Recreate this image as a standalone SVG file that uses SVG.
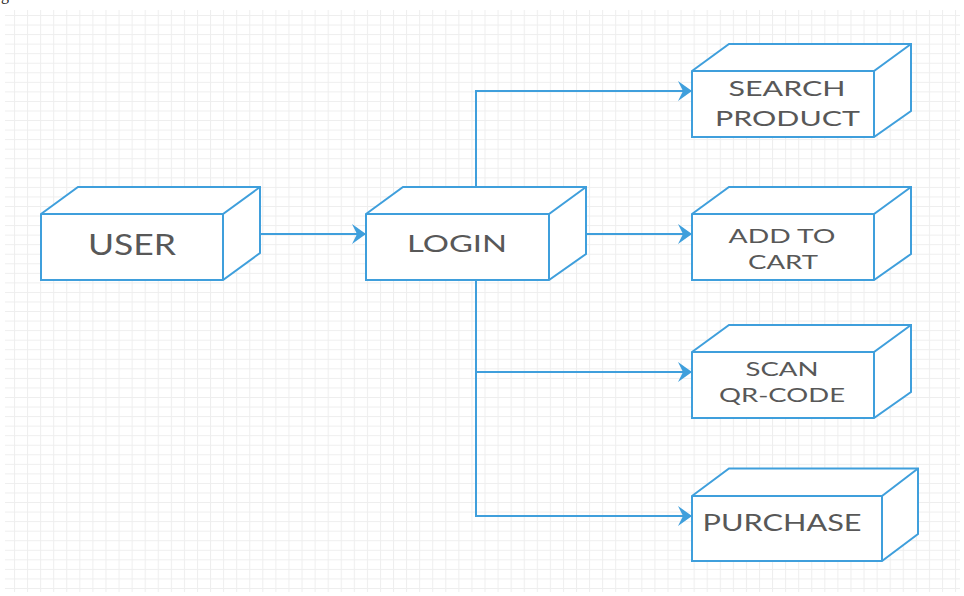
<svg xmlns="http://www.w3.org/2000/svg" width="964" height="596" viewBox="0 0 964 596">
  <style>
    .box path { fill: #ffffff; stroke: #3f9fdc; stroke-width: 2; stroke-linejoin: miter; }
    .box path.edge { fill: none; }
    .label { font-family: Lato, "Open Sans", "Liberation Sans", sans-serif; font-weight: 400; fill: #585858; text-anchor: middle; }
    .wire { fill: none; stroke: #3f9fdc; stroke-width: 2; marker-end: url(#arrow); }
  </style>
  <defs>
    <pattern id="grid" patternUnits="userSpaceOnUse" x="14" y="15" width="13.07" height="9.55">
      <rect x="0" y="0" width="13.07" height="1" fill="#eeeeee"/>
      <rect x="0" y="0" width="1" height="9.55" fill="#eeeeee"/>
    </pattern>
    <marker id="arrow" viewBox="-15 -11 16 22" refX="0" refY="0" markerWidth="16" markerHeight="22" markerUnits="userSpaceOnUse" orient="auto">
      <path d="M0,0 L-14,-10 L-9,0 L-14,10 Z" fill="#3f9fdc"/>
    </marker>
  </defs>

  <rect width="964" height="596" fill="#ffffff"/>
  <rect x="5" y="10" width="955" height="582" fill="url(#grid)"/>
  <text x="1" y="-0.5" font-family="'Liberation Serif', serif" font-size="16" fill="#222">g</text>

  <!-- connectors -->
  <g id="connectors">
    <path class="wire" d="M260,234 H366"/>
    <path class="wire" d="M476,187 V91 H692"/>
    <path class="wire" d="M586,234 H692"/>
    <path class="wire" d="M476,280 V372 H692"/>
    <path class="wire" d="M476,280 V516 H692"/>
  </g>

  <!-- 3D boxes: outline, then front-face edges -->
  <g id="user" class="box">
    <path d="M41,214 L78,187 L260,187 L260,253 L223,280 L41,280 Z"/>
    <path class="edge" d="M41,214 H223 L260,187 M223,214 V280"/>
    <text class="label" x="132" y="255" font-size="28" textLength="88" lengthAdjust="spacingAndGlyphs">USER</text>
  </g>

  <g id="login" class="box">
    <path d="M366,214 L403,187 L586,187 L586,254 L549,280 L366,280 Z"/>
    <path class="edge" d="M366,214 H549 L586,187 M549,214 V280"/>
    <text class="label" x="457" y="252" font-size="24" textLength="100" lengthAdjust="spacingAndGlyphs">LOGIN</text>
  </g>

  <g id="search-product" class="box">
    <path d="M692,71 L729,44 L911,44 L911,111 L874,137 L692,137 Z"/>
    <path class="edge" d="M692,71 H874 L911,44 M874,71 V137"/>
    <text class="label" x="787" y="96" font-size="22" textLength="117" lengthAdjust="spacingAndGlyphs">SEARCH</text>
    <text class="label" x="787.5" y="126" font-size="22" textLength="145" lengthAdjust="spacingAndGlyphs">PRODUCT</text>
  </g>

  <g id="add-to-cart" class="box">
    <path d="M692,214 L729,187 L911,187 L911,254 L874,280 L692,280 Z"/>
    <path class="edge" d="M692,214 H874 L911,187 M874,214 V280"/>
    <text class="label" x="782" y="243" font-size="20" textLength="107" lengthAdjust="spacingAndGlyphs">ADD TO</text>
    <text class="label" x="783" y="269" font-size="20" textLength="70" lengthAdjust="spacingAndGlyphs">CART</text>
  </g>

  <g id="scan-qr-code" class="box">
    <path d="M692,352 L729,325 L911,325 L911,392 L874,418 L692,418 Z"/>
    <path class="edge" d="M692,352 H874 L911,325 M874,352 V418"/>
    <text class="label" x="782" y="376" font-size="20" textLength="73" lengthAdjust="spacingAndGlyphs">SCAN</text>
    <text class="label" x="782" y="402" font-size="20" textLength="126" lengthAdjust="spacingAndGlyphs">QR-CODE</text>
  </g>

  <g id="purchase" class="box">
    <path d="M692,496 L729,468.5 L918,468.5 L918,534 L882,561 L692,561 Z"/>
    <path class="edge" d="M692,496 H882 L918,468.5 M882,496 V561"/>
    <text class="label" x="782" y="531" font-size="24" textLength="159" lengthAdjust="spacingAndGlyphs">PURCHASE</text>
  </g>
</svg>
